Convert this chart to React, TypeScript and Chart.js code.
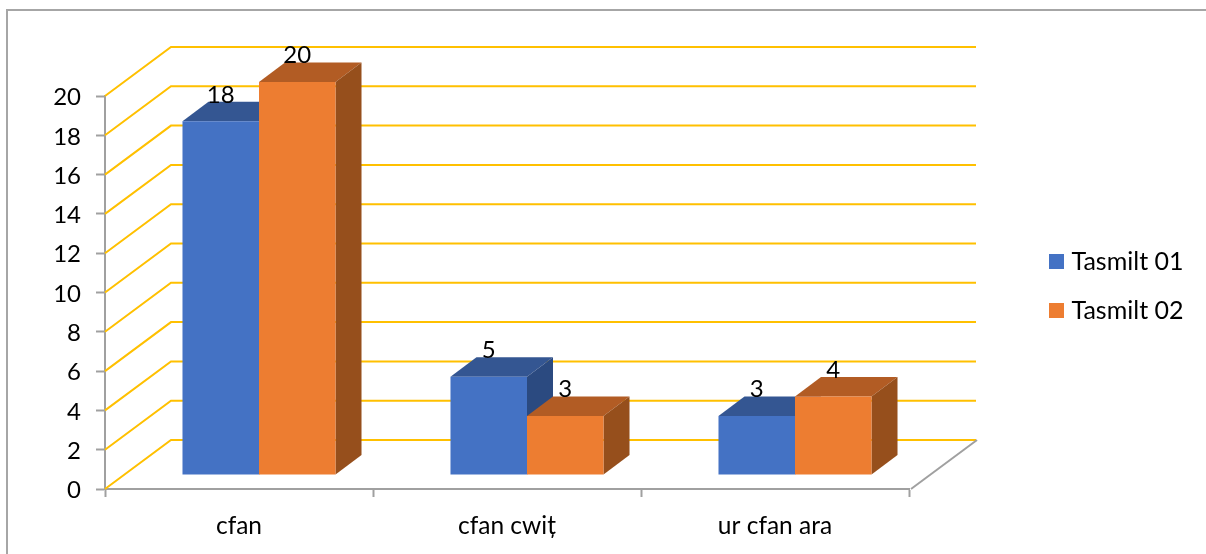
import React, { useEffect, useRef } from "react";
import { Chart, registerables } from "chart.js";

Chart.register(...registerables);

const categories = ["cfan", "cfan cwiț", "ur cfan ara"];
const seriesNames = ["Tasmilt 01", "Tasmilt 02"];
const series01 = [18, 5, 3];
const series02 = [20, 3, 4];
const faceColors = ["#4472c4", "#ed7d31"];
const topColors = ["#345692", "#b25c24"];
const sideColors = ["#2b4a80", "#964f1c"];

const GRID = "#ffc000";
const AXIS = "#a0a0a0";
const FONT = "Lato, Carlito, sans-serif";
const FONT_SIZE = 24;
const LABEL_SIZE = 24.5;
const LEGEND_SIZE = 25;
const FLOOR_DX = 66;
const FLOOR_DY = -49;
const FRONT_DX = 20;
const FRONT_DY = -14;
const DEPTH_DX = 26;
const DEPTH_DY = -19.5;

const poly = (ctx: CanvasRenderingContext2D, pts: number[][], fill: string) => {
  ctx.beginPath();
  pts.forEach(([x, y], i) => (i ? ctx.lineTo(x, y) : ctx.moveTo(x, y)));
  ctx.closePath();
  ctx.fillStyle = fill;
  ctx.fill();
};

const frame = {
  id: "frame",
  beforeDraw(chart: any) {
    const { ctx, width, height } = chart;
    ctx.save();
    ctx.strokeStyle = "#a6a6a6";
    ctx.lineWidth = 2;
    ctx.beginPath();
    ctx.moveTo(7, height);
    ctx.lineTo(7, 10);
    ctx.lineTo(width, 10);
    ctx.stroke();
    ctx.restore();
  },
};

const walls = {
  id: "walls",
  beforeDatasetsDraw(chart: any) {
    const { ctx, scales } = chart;
    const { x: xs, y: ys } = scales;
    const left = xs.left;
    const right = xs.right + 2;
    ctx.save();
    ctx.lineWidth = 2;
    ys.ticks.forEach((t: any) => {
      const y = ys.getPixelForValue(t.value);
      ctx.strokeStyle = GRID;
      ctx.beginPath();
      ctx.moveTo(left, y);
      ctx.lineTo(left + FLOOR_DX, y + FLOOR_DY);
      ctx.lineTo(right + FLOOR_DX - 1, y + FLOOR_DY);
      ctx.stroke();
    });
    const y0 = ys.getPixelForValue(0);
    ctx.strokeStyle = AXIS;
    ctx.beginPath();
    ctx.moveTo(right, y0);
    ctx.lineTo(right + FLOOR_DX, y0 + FLOOR_DY);
    ctx.stroke();
    ctx.restore();
  },
};

const drawSides = (chart: any, i: number) => {
  const { ctx } = chart;
  chart.getDatasetMeta(i).data.forEach((el: any) => {
    const l = el.x - el.width / 2;
    const r = el.x + el.width / 2;
    const t = el.y;
    const b = el.base;
    poly(ctx, [[l, t], [r, t], [r + DEPTH_DX, t + DEPTH_DY], [l + DEPTH_DX, t + DEPTH_DY]], topColors[i]);
    poly(ctx, [[r, t], [r + DEPTH_DX, t + DEPTH_DY], [r + DEPTH_DX, b + DEPTH_DY], [r, b]], sideColors[i]);
  });
};

const bars3d = {
  id: "bars3d",
  afterDatasetsUpdate(chart: any) {
    chart.data.datasets.forEach((_: any, i: number) => {
      chart.getDatasetMeta(i).data.forEach((el: any) => {
        el.x += FRONT_DX;
        el.y += FRONT_DY;
        el.base += FRONT_DY;
      });
    });
  },
  // Chart.js paints the last dataset first, so the back faces of both go in before it.
  beforeDatasetDraw(chart: any, args: any) {
    if (args.index !== chart.data.datasets.length - 1) return;
    chart.ctx.save();
    chart.data.datasets.forEach((_: any, i: number) => drawSides(chart, i));
    chart.ctx.restore();
  },
  afterDatasetsDraw(chart: any) {
    const { ctx } = chart;
    ctx.save();
    ctx.font = `${FONT_SIZE}px ${FONT}`;
    ctx.fillStyle = "#000000";
    ctx.textAlign = "center";
    ctx.textBaseline = "middle";
    chart.data.datasets.forEach((ds: any, i: number) => {
      chart.getDatasetMeta(i).data.forEach((el: any, j: number) => {
        ctx.fillText(String(ds.data[j]), el.x, el.y - 26.5);
      });
    });
    ctx.restore();
  },
};

const legendPlace = {
  id: "legendPlace",
  afterLayout(chart: any) {
    const lg = chart.legend;
    lg.left = 1030;
    lg.right = 1200;
    lg.top = 93;
    lg.bottom = 479;
  },
};

export default function App() {
  const ref = useRef<HTMLCanvasElement>(null);
  useEffect(() => {
    const chart = new Chart(ref.current as HTMLCanvasElement, {
      type: "bar",
      data: {
        labels: categories,
        datasets: [
          { label: seriesNames[0], data: series01, backgroundColor: faceColors[0], clip: false },
          { label: seriesNames[1], data: series02, backgroundColor: faceColors[1], clip: false },
        ] as any,
      },
      plugins: [frame, walls, bars3d, legendPlace],
      options: {
        animation: false,
        responsive: false,
        layout: { padding: { left: 0, top: 96, right: 197, bottom: 0 } },
        datasets: { bar: { categoryPercentage: 0.571, barPercentage: 1 } },
        scales: {
          x: {
            grid: { offset: true, drawOnChartArea: false, drawTicks: true, tickLength: 8, tickColor: AXIS, tickWidth: 2 },
            border: { color: AXIS, width: 2 },
            ticks: { color: "#000000", font: { family: FONT, size: LABEL_SIZE }, padding: 14, maxRotation: 0 },
            afterFit(s: any) { s.height = 65; },
          },
          y: {
            min: 0,
            max: 20,
            grid: { drawOnChartArea: false, tickLength: 9, tickColor: AXIS, tickWidth: 2 },
            border: { color: AXIS, width: 2 },
            ticks: { stepSize: 2, color: "#000000", font: { family: FONT, size: FONT_SIZE }, padding: 15, labelOffset: 1.5 },
            afterFit(s: any) { s.width = 105; },
          },
        },
        plugins: {
          tooltip: { enabled: false },
          title: { display: false },
          legend: {
            position: "right",
            maxWidth: 100,
            labels: {
              color: "#000000",
              font: { family: FONT, size: LEGEND_SIZE },
              padding: 24,
              boxHeight: 5,
              boxWidth: 5,
              generateLabels(c: any) {
                return c.data.datasets.map((ds: any, i: number) => ({
                  text: ds.label,
                  fillStyle: faceColors[i],
                  strokeStyle: faceColors[i],
                  lineWidth: 10,
                  datasetIndex: i,
                  fontColor: "#000000",
                }));
              },
            },
          },
        },
      },
    } as any);
    return () => chart.destroy();
  }, []);
  return (
    <canvas
      ref={ref}
      width={1206}
      height={554}
      style={{ position: "fixed", left: 0, top: 0, width: 1206, height: 554, display: "block", background: "#ffffff" }}
    />
  );
}
